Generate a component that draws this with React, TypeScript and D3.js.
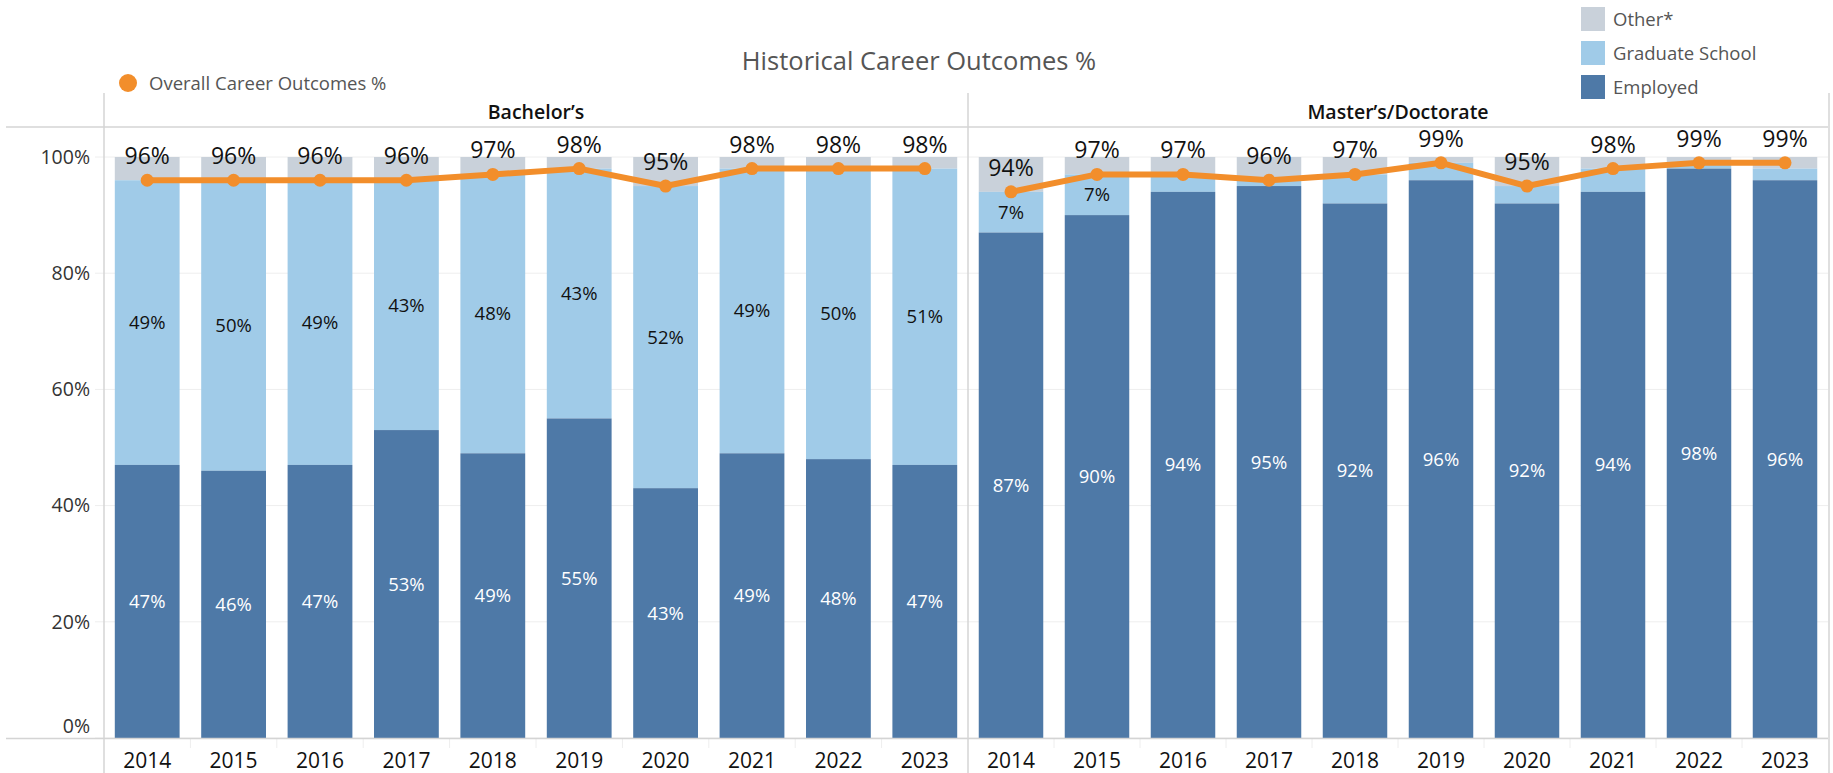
import React from "react";
import * as d3 from "d3";

const years = ["2014", "2015", "2016", "2017", "2018", "2019", "2020", "2021", "2022", "2023"];
const bachEmployed = [47, 46, 47, 53, 49, 55, 43, 49, 48, 47];
const bachGrad = [49, 50, 49, 43, 48, 43, 52, 49, 50, 51];
const bachOverall = [96, 96, 96, 96, 97, 98, 95, 98, 98, 98];
const mastEmployed = [87, 90, 94, 95, 92, 96, 92, 94, 98, 96];
const mastGrad = [7, 7, 3, 1, 5, 3, 3, 4, 1, 2];
const mastOverall = [94, 97, 97, 96, 97, 99, 95, 98, 99, 99];
const yTicks = [0, 20, 40, 60, 80, 100];

const C_EMP = "#4e79a7";
const C_GRAD = "#a0cbe8";
const C_OTHER = "#c9d1da";
const C_LINE = "#f28e2b";
const FONT = "'Open Sans', 'Noto Sans', sans-serif";

const panels = [
  { name: "Bachelor\u2019s", emp: bachEmployed, grad: bachGrad, overall: bachOverall, x0: 104, x1: 968 },
  { name: "Master\u2019s/Doctorate", emp: mastEmployed, grad: mastGrad, overall: mastOverall, x0: 968, x1: 1828 },
];

export default function App() {
  const y = d3.scaleLinear().domain([0, 100]).range([738, 157]);
  const line = d3.line<[number, number]>().x((d) => d[0]).y((d) => d[1]);
  return (
    <svg width={1833} height={773} style={{ position: "absolute", left: 0, top: 0, fontFamily: FONT }}>
      <rect width={1833} height={773} fill="#fff" />
      {/* title */}
      <text x={919} y={70} textAnchor="middle" fontSize={25.5} fill="#555">Historical Career Outcomes %</text>
      {/* line legend */}
      <circle cx={128} cy={83} r={9} fill={C_LINE} />
      <text x={149} y={89.5} fontSize={18.5} fill="#555">Overall Career Outcomes %</text>
      {/* color legend */}
      {[
        ["Other*", C_OTHER],
        ["Graduate School", C_GRAD],
        ["Employed", C_EMP],
      ].map(([t, c], i) => (
        <g key={t}>
          <rect x={1581} y={7 + i * 34} width={24} height={24} fill={c} />
          <text x={1613} y={26 + i * 34} fontSize={18.5} fill="#555">{t}</text>
        </g>
      ))}
      {/* gridlines */}
      {yTicks.map((t) => (
        <line key={t} x1={95} x2={1828} y1={y(t)} y2={y(t)} stroke="#eeeeee" strokeWidth={1} />
      ))}
      {/* y tick labels */}
      {yTicks.map((t) => (
        <text key={t} x={90} y={y(t) + (t === 0 ? -12 : 0)} dy="0.35em" textAnchor="end" fontSize={19.5} fill="#333">{t}%</text>
      ))}
      {panels.map((p) => {
        const x = d3.scaleBand().domain(years).range([p.x0, p.x1]).paddingInner(0.25).paddingOuter(0.125);
        const bw = x.bandwidth();
        const pts: [number, number][] = years.map((yr, i) => [(x(yr) as number) + bw / 2, y(p.overall[i])]);
        return (
          <g key={p.name}>
            <text x={(p.x0 + p.x1) / 2} y={112} dy="0.35em" textAnchor="middle" fontSize={19.5} fontWeight={600} fill="#111">{p.name}</text>
            {years.map((yr, i) => {
              const bx = x(yr) as number;
              const e = p.emp[i];
              const g = p.grad[i];
              return (
                <g key={yr}>
                  <rect x={bx} width={bw} y={y(100)} height={y(e + g) - y(100)} fill={C_OTHER} />
                  <rect x={bx} width={bw} y={y(e + g)} height={y(e) - y(e + g)} fill={C_GRAD} />
                  <rect x={bx} width={bw} y={y(e)} height={y(0) - y(e)} fill={C_EMP} />
                  <text x={bx + bw / 2} y={(y(0) + y(e)) / 2} dy="0.35em" textAnchor="middle" fontSize={18.5} fill="#fff">{e}%</text>
                  {g >= 6 && (
                    <text x={bx + bw / 2} y={(y(e) + y(e + g)) / 2} dy="0.35em" textAnchor="middle" fontSize={18.5} fill="#111">{g}%</text>
                  )}
                </g>
              );
            })}
            <path d={line(pts) || ""} fill="none" stroke={C_LINE} strokeWidth={6} strokeLinejoin="round" />
            {pts.map((pt, i) => (
              <circle key={i} cx={pt[0]} cy={pt[1]} r={6.5} fill={C_LINE} />
            ))}
            {pts.map((pt, i) => (
              <text key={"l" + i} x={pt[0]} y={pt[1] - 16} textAnchor="middle" fontSize={23} fill="#111">{p.overall[i]}%</text>
            ))}
            {/* band separator ticks */}
            {years.slice(1).map((yr) => (
              <line key={yr} x1={(x(yr) as number) - (x.step() - bw) / 2} x2={(x(yr) as number) - (x.step() - bw) / 2} y1={738} y2={748} stroke="#eeeeee" />
            ))}
            {years.map((yr) => (
              <text key={yr} x={(x(yr) as number) + bw / 2} y={768} textAnchor="middle" fontSize={21} fill="#111">{yr}</text>
            ))}
          </g>
        );
      })}
      {/* frame */}
      <line x1={6} x2={1828} y1={127} y2={127} stroke="#d4d4d4" strokeWidth={1.5} />
      <line x1={6} x2={1828} y1={738.5} y2={738.5} stroke="#d4d4d4" strokeWidth={1.5} />
      {[104, 968, 1829].map((xx) => (
        <line key={xx} x1={xx} x2={xx} y1={93} y2={773} stroke="#d4d4d4" strokeWidth={1.5} />
      ))}
    </svg>
  );
}
